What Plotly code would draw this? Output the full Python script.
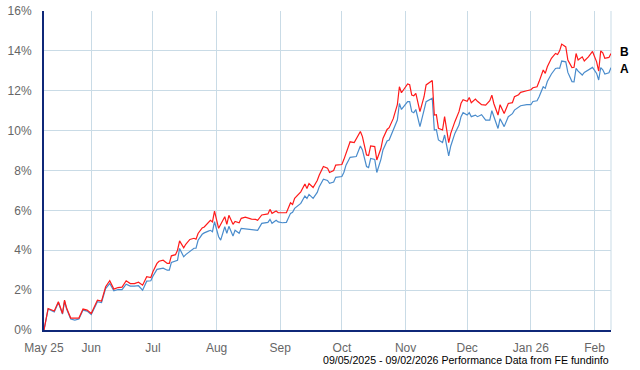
import pandas as pd
import plotly.graph_objects as go

start_date = "2025-05-09"
end_date = "2026-02-09"

# day offsets from the start date
day_offsets = [0, 2, 5, 7, 9, 10, 11, 13, 15, 17, 19, 21, 23, 25, 26, 28, 30, 32, 34, 36,
               38, 40, 42, 44, 46, 48, 50, 52, 53, 55, 56, 58, 60, 61, 62, 64, 65, 66, 68, 69,
               71, 73, 74, 75, 77, 78, 80, 81, 82, 83, 85, 86, 88, 89, 90, 92, 93, 95, 96, 98,
               99, 101, 103, 104, 106, 108, 109, 110, 111, 113, 114, 116, 118, 120, 121, 122, 125, 127, 128, 129,
               131, 133, 134, 136, 138, 139, 141, 142, 145, 146, 147, 149, 151, 152, 154, 155, 157, 158, 159, 161,
               162, 164, 165, 167, 168, 170, 172, 173, 174, 177, 178, 179, 180, 181, 183, 185, 186, 189, 190, 191,
               192, 194, 195, 197, 198, 200, 202, 203, 204, 206, 207, 208, 210, 211, 213, 215, 217, 218, 219, 221,
               222, 224, 226, 228, 229, 231, 232, 235, 237, 238, 240, 241, 243, 244, 245, 247, 249, 250, 251, 252,
               254, 255, 257, 258, 259, 260, 262, 263, 265, 267, 269, 270, 271, 272, 273, 275, 276]

series_b = [0.0, 1.08, 0.95, 1.42, 0.83, 1.5, 1.1, 0.6, 0.6, 0.6, 1.05, 1.0, 0.83, 1.3, 1.5, 1.45, 2.17, 2.47, 2.05, 2.13,
            2.15, 2.47, 2.33, 2.33, 2.4, 2.25, 2.67, 2.63, 2.92, 3.34, 3.45, 3.5, 3.34, 3.34, 3.72, 3.78, 4.0, 4.47, 4.12, 4.3,
            4.54, 4.6, 4.55, 4.84, 5.12, 5.17, 5.39, 5.5, 5.42, 5.96, 5.1, 5.3, 5.68, 5.3, 5.75, 5.3, 5.45, 5.38, 5.6, 5.66,
            5.62, 5.56, 5.55, 5.5, 5.77, 5.8, 5.82, 6.05, 5.85, 5.97, 5.88, 5.88, 5.88, 6.38, 6.3, 6.6, 6.93, 7.32, 7.1, 7.35,
            7.15, 7.5, 7.77, 8.2, 8.12, 7.9, 8.0, 8.27, 8.3, 8.56, 8.86, 9.44, 9.4, 9.6, 9.96, 9.7, 8.78, 8.75, 9.23, 9.2,
            8.53, 9.1, 9.61, 10.06, 10.15, 10.6, 11.3, 12.2, 11.9, 12.34, 12.3, 11.78, 11.75, 11.87, 10.95, 11.7, 12.29, 12.51, 10.78, 10.8,
            10.11, 10.03, 10.7, 9.4, 9.86, 10.45, 10.95, 11.37, 11.55, 11.47, 11.66, 11.4, 11.58, 11.47, 11.3, 11.28, 11.5, 11.78, 11.35, 10.78,
            11.3, 10.86, 11.36, 11.4, 11.7, 11.8, 11.92, 12.0, 12.05, 12.15, 12.2, 12.46, 13.04, 12.87, 13.2, 13.63, 13.87, 13.82, 14.0, 14.34,
            14.2, 13.54, 13.16, 13.18, 13.87, 13.54, 13.7, 13.49, 13.7, 13.97, 13.45, 12.99, 14.0, 13.9, 13.63, 13.67, 13.87]

series_a = [0.0, 1.05, 0.9, 1.38, 0.8, 1.45, 1.05, 0.55, 0.5, 0.55, 1.0, 0.95, 0.78, 1.25, 1.42, 1.38, 2.08, 2.33, 1.97, 2.03,
            2.03, 2.3, 2.2, 2.2, 2.22, 2.0, 2.45, 2.47, 2.7, 3.04, 3.06, 3.1, 3.0, 3.0, 3.39, 3.45, 3.5, 4.09, 3.67, 3.78,
            3.93, 4.1, 4.1, 4.5, 4.8, 4.87, 4.96, 5.0, 4.93, 5.43, 4.68, 4.51, 5.18, 4.85, 5.2, 4.71, 5.0, 4.85, 5.1, 5.08,
            5.05, 5.05, 5.0, 5.0, 5.35, 5.38, 5.4, 5.55, 5.35, 5.5, 5.42, 5.38, 5.4, 5.85, 5.9, 6.1, 6.35, 6.72, 6.6, 6.8,
            6.6, 6.9, 7.19, 7.56, 7.5, 7.36, 7.42, 7.66, 7.7, 7.91, 8.27, 8.66, 8.7, 8.7, 9.23, 9.03, 8.2, 8.15, 8.6, 8.55,
            7.9, 8.56, 9.03, 9.48, 9.53, 10.0, 10.53, 11.36, 11.06, 11.45, 11.45, 10.95, 10.9, 11.06, 10.2, 11.03, 11.45, 11.62, 10.03, 10.05,
            9.53, 9.4, 9.78, 8.73, 9.23, 9.86, 10.28, 10.7, 10.9, 10.78, 10.9, 10.7, 10.78, 10.7, 10.8, 10.53, 10.53, 11.0, 10.7, 10.11,
            10.6, 10.2, 10.7, 10.85, 11.03, 11.15, 11.25, 11.3, 11.3, 11.46, 11.5, 11.7, 12.2, 12.12, 12.46, 12.84, 13.12, 13.14, 13.12, 13.49,
            13.45, 12.92, 12.46, 12.45, 13.12, 12.98, 12.79, 12.92, 13.04, 13.17, 12.87, 12.54, 13.16, 13.05, 12.84, 12.9, 13.16]

tick_dates = ["2025-05-09", "2025-06-01", "2025-07-01", "2025-08-01", "2025-09-01", "2025-10-01",
              "2025-11-01", "2025-12-01", "2026-01-01", "2026-02-01"]
tick_labels = ["May 25", "Jun", "Jul", "Aug", "Sep", "Oct", "Nov", "Dec", "Jan 26", "Feb"]
y_ticks = [0, 2, 4, 6, 8, 10, 12, 14, 16]
y_labels = [f"{v}%" for v in y_ticks]
series_names = ["A", "B"]
footer = "09/05/2025 - 09/02/2026 Performance Data from FE fundinfo"

dates = pd.to_datetime(start_date) + pd.to_timedelta(day_offsets, unit="D")

grid = "#c9dbe6"
axis_col = "#0f2878"
font_family = "Liberation Sans, Arial, sans-serif"

fig = go.Figure()
fig.add_trace(go.Scatter(x=dates, y=series_a, mode="lines", name=series_names[0],
                         line=dict(color="#4a8ccc", width=1.2)))
fig.add_trace(go.Scatter(x=dates, y=series_b, mode="lines", name=series_names[1],
                         line=dict(color="#ff1a1a", width=1.2)))

fig.update_layout(
    width=640, height=370,
    margin=dict(l=44, r=29, t=11, b=40, autoexpand=False),
    paper_bgcolor="white", plot_bgcolor="white",
    showlegend=False,
    font=dict(family=font_family, size=12, color="#666666"),
)
fig.update_xaxes(
    type="date", range=[start_date, end_date], automargin=False,
    tickmode="array", tickvals=tick_dates, ticktext=tick_labels,
    showgrid=True, gridcolor=grid, gridwidth=1,
    showline=True, linecolor=axis_col, linewidth=2,
    ticks="", ticklabelstandoff=6,
    tickfont=dict(size=12, color="#666666"),
    zeroline=False,
)
fig.update_yaxes(
    range=[0, 16], automargin=False,
    tickmode="array", tickvals=y_ticks, ticktext=y_labels,
    showgrid=True, gridcolor=grid, gridwidth=1,
    showline=True, linecolor=axis_col, linewidth=2,
    ticks="", ticklabelstandoff=8,
    tickfont=dict(size=12, color="#666666"),
    zeroline=False,
)
# right border gridline
fig.add_shape(type="line", xref="paper", yref="paper", x0=1, x1=1, y0=0, y1=1,
              line=dict(color=grid, width=1), layer="below")

fig.add_annotation(x=dates[-1], y=series_b[-1], text="<b>B</b>", showarrow=False,
                   xanchor="left", xshift=7, yshift=1,
                   font=dict(size=12, color="black", family=font_family))
fig.add_annotation(x=dates[-1], y=series_a[-1], text="<b>A</b>", showarrow=False,
                   xanchor="left", xshift=7, yshift=-1,
                   font=dict(size=12, color="black", family=font_family))
fig.add_annotation(xref="paper", yref="paper", x=1, y=0, yshift=-30, xanchor="right", yanchor="middle",
                   text=footer, showarrow=False,
                   font=dict(size=10.6, color="black", family=font_family))

fig.write_html("out.html", config={"displayModeBar": False},
               post_script="document.body.style.margin='0';")
